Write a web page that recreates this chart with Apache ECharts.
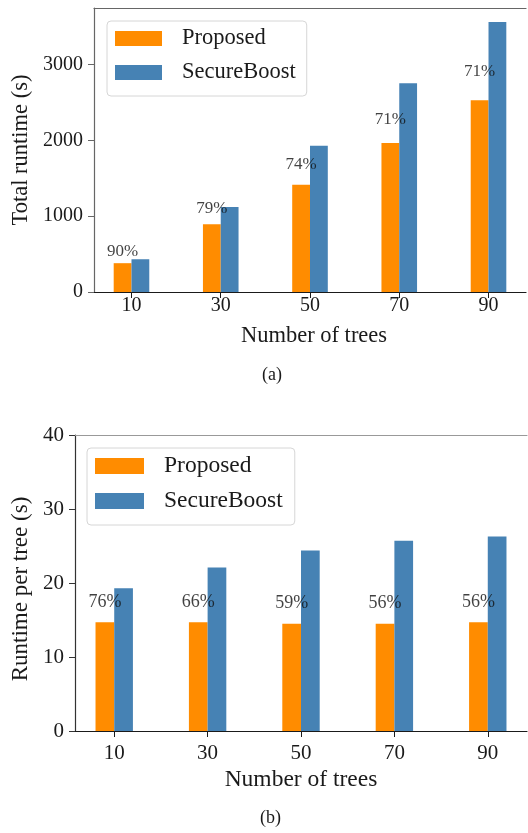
<!DOCTYPE html>
<html>
<head>
<meta charset="utf-8">
<script src="https://cdn.jsdelivr.net/npm/echarts@6/dist/echarts.min.js"></script>
<style>
  html, body { margin: 0; padding: 0; background: #fff; }
  #chart { width: 528px; height: 833px; }
</style>
</head>
<body>
<div id="chart"></div>
<script>
// Number of trees (category index 0..4 on the x axis)
const trees = ['10', '30', '50', '70', '90'];
const treeIndex = [0, 1, 2, 3, 4];

// (a) total runtime in seconds
const totalProposed = [380, 895, 1415, 1965, 2530];
const totalSecureBoost = [432, 1120, 1930, 2752, 3562];
const totalSaving = ['90%', '79%', '74%', '71%', '71%'];
const totalTicks = [0, 1000, 2000, 3000];

// (b) runtime per tree in seconds
const perTreeProposed = [14.7, 14.7, 14.5, 14.5, 14.7];
const perTreeSecureBoost = [19.3, 22.1, 24.4, 25.7, 26.3];
const perTreeSaving = ['76%', '66%', '59%', '56%', '56%'];
const perTreeTicks = [0, 10, 20, 30, 40];

const SERIF = '"Liberation Serif", "DejaVu Serif", serif';
const ORANGE = '#FF8C00';
const BLUE = '#4682B4';
const INK = '#1a1a1a';

function xAxes(grid, o) {
  return [
    {
      type: 'value', gridIndex: grid, min: -0.42, max: 4.42,
      name: 'Number of trees', nameLocation: 'middle', nameGap: o.nameGap,
      nameTextStyle: { fontFamily: SERIF, fontSize: o.titleSize, color: INK, padding: o.namePad },
      axisLine: { show: true, onZero: false, lineStyle: { color: INK, width: 1.2 } },
      axisTick: { show: true, length: 6, lineStyle: { color: INK }, customValues: treeIndex },
      axisLabel: {
        fontFamily: SERIF, fontSize: o.tickSize, color: INK, margin: o.labelMargin,
        customValues: treeIndex, formatter: v => trees[Math.round(v)]
      },
      splitLine: { show: false }
    },
    {
      type: 'value', gridIndex: grid, min: -0.42, max: 4.42, position: 'top',
      axisLine: { show: true, onZero: false, lineStyle: { color: o.frame, width: 1.2 } },
      axisTick: { show: false }, axisLabel: { show: false }, splitLine: { show: false }
    }
  ];
}

function yAxis(grid, o) {
  return {
    type: 'value', gridIndex: grid, min: 0, max: o.max,
    name: o.name, nameLocation: 'middle', nameGap: o.nameGap,
    nameTextStyle: { fontFamily: SERIF, fontSize: o.titleSize, color: INK, padding: o.namePad },
    axisLine: { show: true, onZero: false, lineStyle: { color: o.lineColor, width: 1.2 } },
    axisTick: { show: true, length: 6, lineStyle: { color: o.lineColor }, customValues: o.ticks },
    axisLabel: {
      fontFamily: SERIF, fontSize: o.tickSize, color: INK, margin: 11,
      customValues: o.ticks, formatter: v => String(v)
    },
    splitLine: { show: false }
  };
}

function bars(xi, yi, name, color, values, width) {
  return {
    type: 'bar', name: name, xAxisIndex: xi, yAxisIndex: yi,
    barWidth: width, barGap: '0%',
    itemStyle: { color: color },
    data: values.map((v, i) => [treeIndex[i], v])
  };
}

function savings(xi, yi, proposed, texts, size) {
  return {
    type: 'scatter', xAxisIndex: xi, yAxisIndex: yi, silent: true, z: 5,
    symbolSize: 1, itemStyle: { color: 'rgba(0,0,0,0)' },
    data: proposed.map((v, i) => [treeIndex[i] - 0.1, v * 1.1]),
    label: {
      show: true, position: 'top', distance: 0,
      fontFamily: SERIF, fontSize: size, color: '#111', lineHeight: size,
      formatter: p => texts[p.dataIndex]
    }
  };
}

function legend(o) {
  return {
    orient: 'vertical', left: o.left, top: o.top,
    data: ['Proposed', 'SecureBoost'],
    icon: 'rect', itemWidth: o.iconW, itemHeight: o.iconH, itemGap: o.gap,
    padding: o.padding,
    backgroundColor: '#fff', borderColor: '#d6d6d6', borderWidth: 1, borderRadius: 4,
    textStyle: { fontFamily: SERIF, fontSize: o.size, color: INK, lineHeight: o.size, padding: [0, 0, 0, 15] },
    selectedMode: false
  };
}

const chart = echarts.init(document.getElementById('chart'), null, { renderer: 'canvas' });

chart.setOption({
  animation: false,
  backgroundColor: '#fff',
  grid: [
    { left: 94, top: 8, width: 432, height: 284 },
    { left: 75, top: 435, width: 452, height: 296 }
  ],
  xAxis: [
    ...xAxes(0, { nameGap: 33, titleSize: 22.5, tickSize: 20, labelMargin: 4, frame: '#666', namePad: [0, 0, 0, 8] }),
    ...xAxes(1, { nameGap: 37, titleSize: 23.5, tickSize: 21, labelMargin: 12, frame: '#999', namePad: [0, 0, 0, 0] })
  ],
  yAxis: [
    yAxis(0, { max: 3745, ticks: totalTicks, name: 'Total runtime (s)', nameGap: 58, titleSize: 22.5, tickSize: 20, lineColor: '#666', namePad: [0, 0, 0, 0] }),
    yAxis(1, { max: 40, ticks: perTreeTicks, name: 'Runtime per tree (s)', nameGap: 38, titleSize: 23, tickSize: 21, lineColor: '#333', namePad: [0, 12, 0, 0] })
  ],
  legend: [
    legend({ left: 107, top: 21, iconW: 47, iconH: 15, gap: 11, size: 22.5, padding: [6, 11, 12, 8] }),
    legend({ left: 87, top: 448, iconW: 49, iconH: 16, gap: 11, size: 23.5, padding: [6, 12, 12, 8] })
  ],
  graphic: [
    { type: 'text', left: 262, top: 366, style: { text: '(a)', font: '18px ' + SERIF, fill: INK } },
    { type: 'text', left: 260, top: 809, style: { text: '(b)', font: '18px ' + SERIF, fill: INK } }
  ],
  series: [
    bars(0, 0, 'Proposed', ORANGE, totalProposed, 17.8),
    bars(0, 0, 'SecureBoost', BLUE, totalSecureBoost, 17.8),
    savings(0, 0, totalProposed, totalSaving, 17),
    bars(2, 1, 'Proposed', ORANGE, perTreeProposed, 18.7),
    bars(2, 1, 'SecureBoost', BLUE, perTreeSecureBoost, 18.7),
    savings(2, 1, perTreeProposed, perTreeSaving, 18)
  ]
});
</script>
</body>
</html>
